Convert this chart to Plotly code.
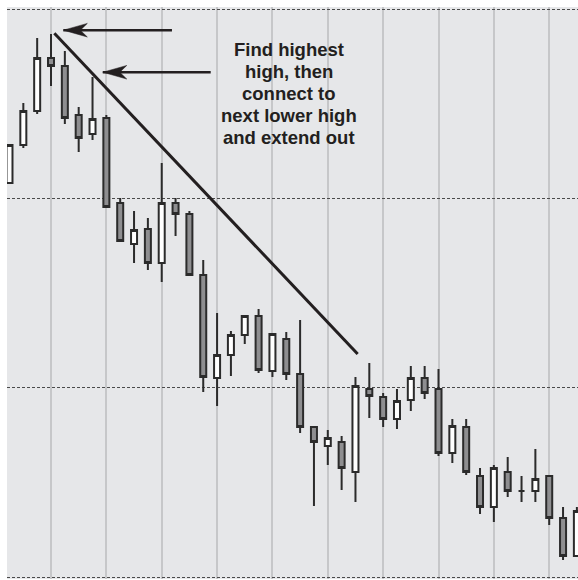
import plotly.graph_objects as go

# one candle per session
sessions = list(range(42))
opens = [1.34081, 1.34282, 1.34461, 1.34741, 1.34699, 1.34440, 1.34340, 1.34424,
         1.33975, 1.33759, 1.33838, 1.33658, 1.33975, 1.33917, 1.33595, 1.33051,
         1.33173, 1.33278, 1.33378, 1.33088, 1.33257, 1.33072, 1.32792, 1.32692,
         1.32713, 1.32555, 1.32993, 1.32951, 1.32834, 1.32935, 1.33051, 1.32993,
         1.32655, 1.32792, 1.32533, 1.32370, 1.32555, 1.32454, 1.32454, 1.32533,
         1.32312, 1.32111]
highs = [1.34287, 1.34504, 1.34847, 1.34868, 1.34778, 1.34482, 1.34641, 1.34440,
         1.34002, 1.33933, 1.33896, 1.34187, 1.34002, 1.33933, 1.33674, 1.33394,
         1.33299, 1.33378, 1.33415, 1.33283, 1.33294, 1.33357, 1.32792, 1.32776,
         1.32745, 1.33056, 1.33130, 1.32972, 1.32993, 1.33114, 1.33114, 1.33099,
         1.32834, 1.32834, 1.32576, 1.32592, 1.32634, 1.32533, 1.32676, 1.32533,
         1.32370, 1.32370]
lows = [1.34076, 1.34266, 1.34445, 1.34593, 1.34393, 1.34245, 1.34308, 1.33954,
        1.33775, 1.33658, 1.33621, 1.33558, 1.33801, 1.33595, 1.32977, 1.32903,
        1.33062, 1.33231, 1.33077, 1.33056, 1.33040, 1.32760, 1.32375, 1.32592,
        1.32460, 1.32396, 1.32840, 1.32792, 1.32782, 1.32877, 1.32940, 1.32639,
        1.32602, 1.32539, 1.32333, 1.32290, 1.32423, 1.32396, 1.32396, 1.32275,
        1.32090, 1.32111]
closes = [1.34282, 1.34461, 1.34741, 1.34699, 1.34424, 1.34319, 1.34419, 1.33954,
          1.33775, 1.33833, 1.33658, 1.33975, 1.33917, 1.33595, 1.33056, 1.33173,
          1.33278, 1.33378, 1.33093, 1.33283, 1.33072, 1.32792, 1.32713, 1.32734,
          1.32576, 1.33009, 1.32956, 1.32834, 1.32930, 1.33051, 1.32972, 1.32655,
          1.32797, 1.32555, 1.32370, 1.32576, 1.32454, 1.32454, 1.32518, 1.32312,
          1.32111, 1.32349]

# trendline: highest high -> next lower high, extended
trend_x = [3.24, 25.16]
trend_y = [1.34872, 1.33178]

note_lines = ["Find highest", "high, then", "connect to",
              "next lower high", "and extend out"]

ink = '#231f20'

fig = go.Figure()

fig.add_trace(go.Candlestick(
    x=sessions, open=opens, high=highs, low=lows, close=closes,
    increasing=dict(fillcolor='white', line=dict(color='#2b2b2b', width=2)),
    decreasing=dict(fillcolor='#8e8e90', line=dict(color='#2b2b2b', width=2)),
    whiskerwidth=0,
    showlegend=False,
    hoverinfo='skip',
))

fig.add_trace(go.Scatter(
    x=trend_x, y=trend_y, mode='lines',
    line=dict(color=ink, width=3),
    showlegend=False, hoverinfo='skip',
))

# arrows pointing at the two highs
arrows = [dict(tip=(3.89, 1.34888), tail=11.74),
          dict(tip=(6.74, 1.34666), tail=14.54)]
shapes = []
for a in arrows:
    tx, ty = a['tip']
    shapes.append(dict(type='line', xref='x', yref='y',
                       x0=a['tail'], y0=ty, x1=tx, y1=ty,
                       line=dict(color=ink, width=2.5)))
    shapes.append(dict(type='path', xref='x', yref='y',
                       xsizemode='pixel', ysizemode='pixel',
                       xanchor=tx, yanchor=ty,
                       path='M0,0 L24,6.8 L17,0 L24,-6.8 Z',
                       fillcolor=ink, line=dict(color=ink, width=0.5)))

annotations = []
for k, txt in enumerate(note_lines):
    annotations.append(dict(
        xref='paper', yref='paper', x=0.4947, y=0.9265 - k * 0.0388,
        text=txt, showarrow=False, xanchor='center', yanchor='middle',
        font=dict(family='Liberation Sans, Arial', size=18.5, color=ink,
                  weight='bold')))

fig.update_layout(
    width=578, height=580,
    margin=dict(l=7, r=0, t=7, b=1),
    paper_bgcolor='white',
    plot_bgcolor='#e6e7e9',
    boxgap=0.566, boxgroupgap=0,
    shapes=shapes,
    annotations=annotations,
    xaxis=dict(
        range=[-0.18, 41.08],
        showticklabels=False, ticks='',
        showgrid=True, tick0=3, dtick=4,
        gridcolor='#c6c7c9', gridwidth=1.5,
        zeroline=False, showline=False,
        rangeslider=dict(visible=False),
    ),
    yaxis=dict(
        range=[1.3198944, 1.3501056],
        showticklabels=False, ticks='',
        showgrid=True, tick0=1.32, dtick=0.01,
        gridcolor='#4a4a4a', gridwidth=1, griddash='3px,2px',
        zeroline=False, showline=False,
    ),
)

fig.write_html("out.html", config={'displayModeBar': False},
               post_script="document.body.style.margin='0';")
